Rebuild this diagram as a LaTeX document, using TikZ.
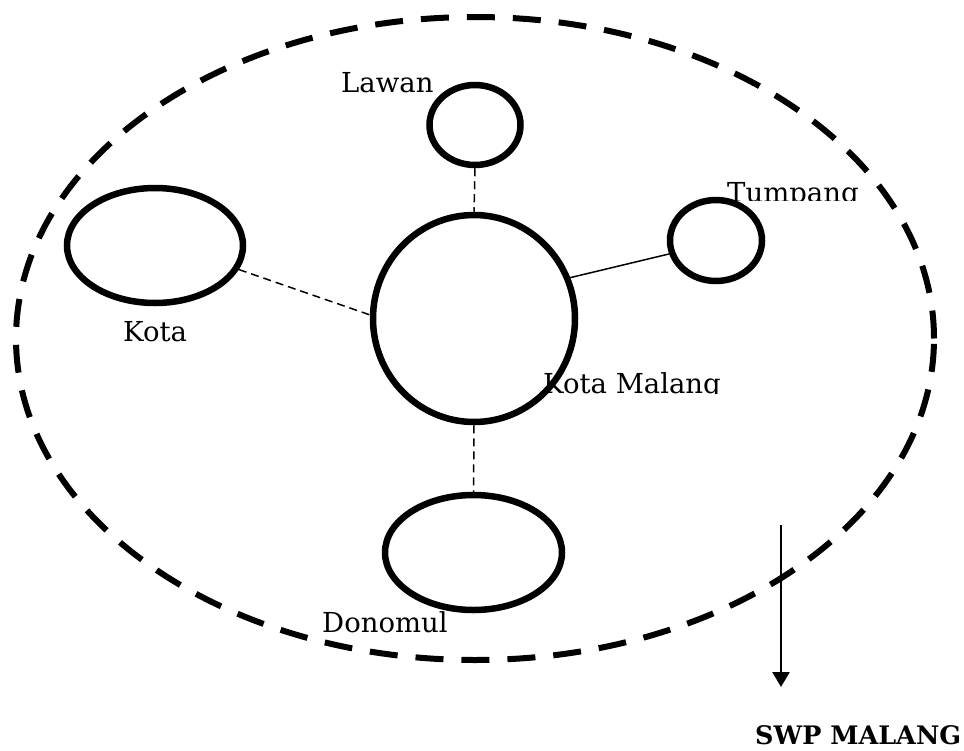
\documentclass[tikz,border=0pt]{standalone}
\usepackage{fontspec}
\setmainfont{DejaVu Serif}
\usetikzlibrary{shapes.geometric,arrows.meta}
\tikzset{
  blob/.style={draw, shape=ellipse, line width=6.5pt, inner sep=0pt},
  lbl/.style={anchor=base west, inner sep=0pt, font=\fontsize{27.5}{33}\selectfont},
  dlink/.style={line width=1.5pt, dash pattern=on 8pt off 5pt},
  slink/.style={line width=1.5pt},
  outer/.style={draw, shape=ellipse, line width=6pt, dash pattern=on 28pt off 18pt, inner sep=0pt}
}
\begin{document}
\begin{tikzpicture}[x=1pt,y=-1pt]
\useasboundingbox[fill=white] (0,0) rectangle (964,750);
% outer dashed region
\node[outer, minimum width=918pt, minimum height=643pt] (swp) at (475,338.5) {};
% places
\node[blob, minimum width=202pt, minimum height=207pt] (malang) at (474,318.5) {};
\node[blob, minimum width=91pt, minimum height=80pt] (lawan) at (475,125) {};
\node[blob, minimum width=176pt, minimum height=115pt] (kota) at (155,245.5) {};
\node[blob, minimum width=92pt, minimum height=81pt] (tumpang) at (716,240.5) {};
\node[blob, minimum width=177pt, minimum height=115pt] (donomul) at (473.5,552.5) {};
% connectors
\draw[dlink] (lawan.south) -- (malang.north);
\draw[dlink] (kota.-16) -- (malang.178);
\draw[slink] (tumpang.-164) -- (malang.23);
\draw[dlink] (malang.south) -- (donomul.north);
% labels
\node[lbl] (tLawan) at (341,92) {Lawan};
\node[lbl] (tKota) at (123,341) {Kota};
\node[lbl] (tDonomul) at (322,632) {Donomul};
\begin{scope}
  \clip (700,160) rectangle (900,200);
  \node[lbl] (tTumpang) at (727,202) {Tumpang};
\end{scope}
\begin{scope}
  \clip (530,355) rectangle (760,393);
  \node[lbl] (tMalang) at (543,393) {Kota Malang};
\end{scope}
% arrow and title
\coordinate (arrTop) at (781,525);
\coordinate (arrTip) at (781,687);
\draw[line width=2.5pt, -{Triangle[width=17pt,length=15pt]}] (arrTop) -- (arrTip);
\node[anchor=base west, inner sep=0pt, font=\fontsize{25.5}{30}\selectfont\bfseries] (tSWP) at (755,744) {SWP MALANG};
\end{tikzpicture}
\end{document}
